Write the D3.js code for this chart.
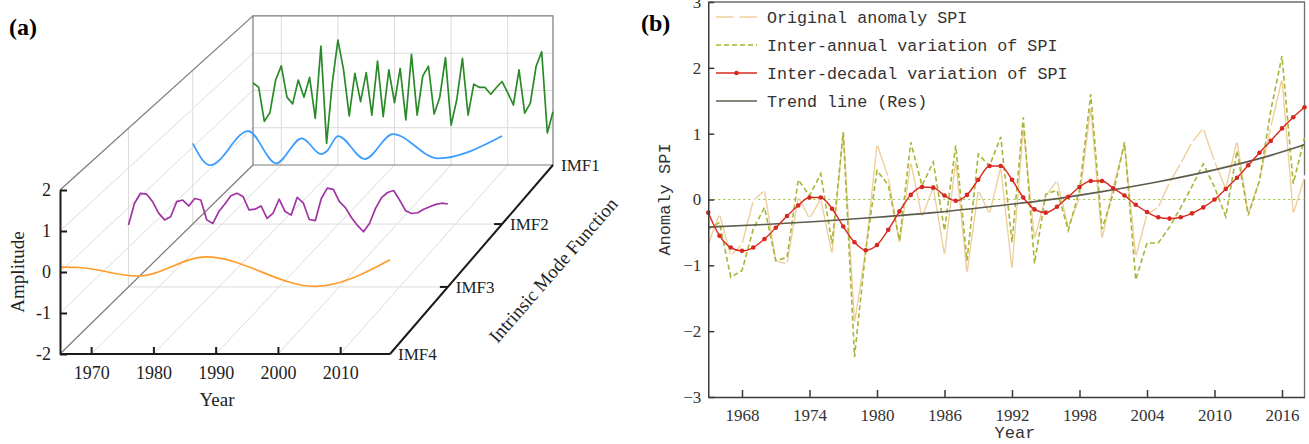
<!DOCTYPE html>
<html>
<head>
<meta charset="utf-8">
<script src="https://cdn.jsdelivr.net/npm/d3@7"></script>
<style>
body { margin: 0; background: #fff; }
svg { display: block; font-family: "Liberation Serif", "Times New Roman", serif; }
</style>
</head>
<body>
<svg id="chart" width="1309" height="444"></svg>
<script>
// ---------- data: panel (a) ----------
const years = d3.range(1965, 2019);
const imfNames = ['IMF4', 'IMF3', 'IMF2', 'IMF1'];
const yearTicksA = [1970, 1980, 1990, 2000, 2010];
const ampTicks = [-2, -1, 0, 1, 2];

// IMF1, one value a year (back wall)
const imf1 = [0.20, 0.09, -0.83, -0.59, 0.28, 0.66, -0.18, -0.36, 0.28, -0.18,
  0.35, -0.75, 1.19, -1.42, 0.19, 1.35, 0.55, -0.68, 0.46, -0.30,
  0.48, -0.66, 0.79, -0.70, 0.55, -0.33, 0.59, -0.79, 0.97, -0.66,
  0.39, 0.65, -0.63, -0.18, 0.88, -0.93, -0.25, 0.86, -0.66, 0.17,
  0.08, 0.08, -0.10, 0.08, 0.24, -0.06, -0.39, 0.55, -0.61, -0.34,
  0.64, 1.04, -1.14, -0.57];
// IMF2, turning points
const imf2Years = [1965, 1968, 1974.5, 1979.3, 1983.7, 1987, 1988, 1989.9, 1994.5, 1999.3, 2007, 2018];
const imf2 = [0.10, -0.47, 0.42, -0.42, 0.23, -0.18, -0.10, 0.29, -0.31, 0.34, -0.29, 0.29];
// IMF3, one value a year
const imf3 = [-0.44, 0.11, 0.36, 0.34, 0.15, -0.14, -0.31, -0.23, 0.15, 0.19,
  0.04, 0.23, 0.19, -0.31, -0.40, -0.10, 0.09, 0.30, 0.36, 0.28,
  -0.06, -0.04, 0.04, -0.27, -0.14, 0.21, -0.10, -0.19, 0.26, 0.12,
  -0.30, -0.33, 0.23, 0.49, 0.46, 0.15, 0.00, -0.25, -0.45, -0.61,
  -0.40, -0.02, 0.25, 0.38, 0.43, 0.19, -0.08, -0.15, -0.13, -0.04,
  0.02, 0.08, 0.11, 0.09];
// IMF4, turning points
const imf4Years = [1965, 1968, 1977.5, 1988.5, 2006, 2018];
const imf4 = [0.12, 0.11, -0.10, 0.37, -0.35, 0.30];

// ---------- data: panel (b) ----------
const yearTicksB = [1968, 1974, 1980, 1986, 1992, 1998, 2004, 2010, 2016];
const spiTicks = [-3, -2, -1, 0, 1, 2, 3];
const original = [-0.68, -0.22, -0.85, -0.68, -0.02, 0.14, -0.93, -0.98, 0.04, -0.29,
  0.01, -0.83, 1.05, -1.88, -0.77, 0.84, 0.34, -0.67, 0.57, -0.27,
  0.19, -0.85, 0.59, -1.12, 0.14, -0.22, 0.49, -1.06, 1.09, -0.60,
  0.05, 0.29, -0.42, 0.03, 1.40, -0.60, 0.19, 0.84, -0.87, -0.22,
  -0.12, 0.26, 0.55, 0.87, 1.08, 0.58, 0.16, 0.89, -0.22, 0.29,
  1.10, 1.83, -0.22, 0.34];
const interAnnual = [-0.45, -0.35, -1.18, -1.08, -0.45, -0.12, -0.93, -0.88, 0.30, 0.06,
  0.39, -0.67, 1.02, -2.39, -0.77, 0.44, 0.22, -0.62, 0.87, 0.21,
  0.57, -0.47, 0.82, -0.93, 0.69, 0.51, 0.95, -0.65, 1.25, -0.97,
  0.08, 0.14, -0.47, 0.14, 1.60, -0.45, 0.09, 0.87, -1.22, -0.66,
  -0.66, -0.42, -0.12, 0.20, 0.54, 0.19, -0.26, 0.74, -0.24, 0.29,
  1.35, 2.18, 0.24, 0.94];
const interDecadal = [-0.20, -0.55, -0.73, -0.78, -0.73, -0.60, -0.43, -0.25, -0.09, 0.03,
  0.03, -0.14, -0.41, -0.65, -0.77, -0.69, -0.46, -0.18, 0.07, 0.19,
  0.18, 0.06, -0.02, 0.07, 0.30, 0.51, 0.51, 0.30, 0.03, -0.15,
  -0.20, -0.11, 0.04, 0.19, 0.28, 0.28, 0.17, 0.06, -0.08, -0.19,
  -0.27, -0.29, -0.27, -0.21, -0.12, 0.00, 0.16, 0.33, 0.52, 0.71,
  0.89, 1.08, 1.25, 1.40];
const trendYears = [1965, 1970, 1975, 1980, 1985, 1990, 1995, 2000, 2005, 2010, 2015, 2018];
const trend = [-0.42, -0.38, -0.33, -0.27, -0.20, -0.11, -0.01, 0.12, 0.27, 0.45, 0.67, 0.83];

const svg = d3.select('#chart');

// ================= Panel (a): 3D waterfall of IMFs =================
const xA = d3.scaleLinear().domain([1965, 2018]).range([60, 390]);
const yA = d3.scaleLinear().domain([-2, 2]).range([354, 190]);
const depth = d3.scalePoint().domain(imfNames).range([0, 1]);

// simple perspective: back wall is the front plane shrunk toward a far vanishing point
const VX = 2183, VY = -1725, K = 0.1;
function proj(px, py, t) {
    const s = 1 / (1 + K * t);
    return [VX + s * (px - VX), VY + s * (py - VY)];
}

const ga = svg.append('g');
function seg(a, b, color, w) {
    ga.append('line')
        .attr('x1', a[0]).attr('y1', a[1])
        .attr('x2', b[0]).attr('y2', b[1])
        .style('stroke', color)
        .style('stroke-width', w);
}

const x0 = xA.range()[0], x1 = xA.range()[1];
const yBot = yA(-2), yTop = yA(2);
const grid = '#dcdcdc';
const midDepths = [depth('IMF3'), depth('IMF2')];

// back wall grid
yearTicksA.forEach(yr => seg(proj(xA(yr), yBot, 1), proj(xA(yr), yTop, 1), grid, 1));
[-1, 0, 1].forEach(a => seg(proj(x0, yA(a), 1), proj(x1, yA(a), 1), grid, 1));
// floor grid
yearTicksA.forEach(yr => seg(proj(xA(yr), yBot, 0), proj(xA(yr), yBot, 1), grid, 1));
midDepths.forEach(t => seg(proj(x0, yBot, t), proj(x1, yBot, t), grid, 1));
// left wall grid
[-1, 0, 1].forEach(a => seg(proj(x0, yA(a), 0), proj(x0, yA(a), 1), grid, 1));
midDepths.forEach(t => seg(proj(x0, yBot, t), proj(x0, yTop, t), grid, 1));

// box edges
const edge = '#7a7a7a';
const bl = proj(x0, yBot, 1), tl = proj(x0, yTop, 1), br = proj(x1, yBot, 1), tr = proj(x1, yTop, 1);
ga.append('path')
    .attr('d', `M${bl}L${tl}L${tr}L${br}Z`)
    .style('fill', 'none')
    .style('stroke', edge)
    .style('stroke-width', 1.2);
seg([x0, yTop], tl, edge, 1.2);
seg([x0, yBot], bl, edge, 1.2);

// curves
function lineAt(name) {
    const t = depth(name);
    return d3.line()
        .x(d => proj(xA(d[0]), yA(d[1]), t)[0])
        .y(d => proj(xA(d[0]), yA(d[1]), t)[1]);
}
const seriesA = [
    { name: 'IMF4', pts: d3.zip(imf4Years, imf4), color: '#ff9d2b', curve: d3.curveMonotoneX },
    { name: 'IMF3', pts: d3.zip(years, imf3), color: '#a033a3', curve: d3.curveLinear },
    { name: 'IMF2', pts: d3.zip(imf2Years, imf2), color: '#3a9cff', curve: d3.curveMonotoneX },
    { name: 'IMF1', pts: d3.zip(years, imf1), color: '#2a8a2a', curve: d3.curveLinear }
];
seriesA.forEach(s => {
    ga.append('path')
        .datum(s.pts)
        .attr('d', lineAt(s.name).curve(s.curve))
        .style('fill', 'none')
        .style('stroke', s.color)
        .style('stroke-width', 1.7)
        .style('stroke-linejoin', 'round');
});

// front axes
const axisY = ga.append('g')
    .attr('transform', `translate(${x0},0)`)
    .call(d3.axisLeft(yA).tickValues(ampTicks).tickFormat(d => String(d))
        .tickSize(-7).tickSizeOuter(0).tickPadding(9));
const axisX = ga.append('g')
    .attr('transform', `translate(0,${yBot})`)
    .call(d3.axisBottom(xA).tickValues(yearTicksA).tickFormat(d3.format('d'))
        .tickSize(-7).tickSizeOuter(0).tickPadding(12));
[axisY, axisX].forEach(g => {
    g.selectAll('path, line').style('stroke', '#1a1a1a').style('stroke-width', 2);
    g.selectAll('text').style('font-family', '"Liberation Serif", serif')
        .style('font-size', '18px').style('fill', '#222');
});
axisX.select('.domain').attr('d', `M${x0},0H${x1}`);

// depth axis along the right floor edge
seg([x1, yBot], br, '#1a1a1a', 2);
imfNames.forEach(n => {
    const p = proj(x1, yBot, depth(n));
    if (n === 'IMF3' || n === 'IMF2') seg([p[0] - 8, p[1]], p, '#1a1a1a', 2);
    ga.append('text')
        .attr('x', p[0] + 8)
        .attr('y', p[1])
        .attr('dy', '0.35em')
        .style('font-size', '17px')
        .style('fill', '#222')
        .text(n);
});

ga.append('text')
    .attr('transform', 'translate(553,270) rotate(-49)')
    .attr('text-anchor', 'middle')
    .attr('dy', '0.35em')
    .style('font-size', '19px')
    .style('fill', '#222')
    .text('Intrinsic Mode Function');
ga.append('text')
    .attr('transform', `translate(17,${yA(0)}) rotate(-90)`)
    .attr('text-anchor', 'middle')
    .attr('dy', '0.35em')
    .style('font-size', '19px')
    .style('fill', '#222')
    .text('Amplitude');
ga.append('text')
    .attr('x', 217).attr('y', 406)
    .attr('text-anchor', 'middle')
    .style('font-size', '19px')
    .style('fill', '#222')
    .text('Year');
ga.append('text')
    .attr('x', 9).attr('y', 35)
    .style('font-size', '24px')
    .style('font-weight', 'bold')
    .text('(a)');

// ================= Panel (b): SPI decomposition =================
const xB = d3.scaleLinear().domain([1965, 2018]).range([708.25, 1304.5]);
const yB = d3.scaleLinear().domain([-3, 3]).range([397, 2]);
const gb = svg.append('g');
const mono = '"Liberation Mono", "DejaVu Sans Mono", monospace';

const cTan = '#efcf9e', cGreen = '#a6b535', cZero = '#93c83a', cRed = '#d8281e', cTrend = '#5c5c4c';

// frame (top/right)
gb.append('path')
    .attr('d', `M${xB.range()[0]},${yB(3)}H${xB.range()[1]}V${yB(-3)}`)
    .style('fill', 'none')
    .style('stroke', '#6e6e6e')
    .style('stroke-width', 1.3);

// zero line
gb.append('line')
    .attr('x1', xB.range()[0]).attr('x2', xB.range()[1])
    .attr('y1', yB(0)).attr('y2', yB(0))
    .style('stroke', cZero)
    .style('stroke-width', 1.2)
    .style('stroke-dasharray', '2,3');

const lineB = d3.line().x(d => xB(d[0])).y(d => yB(d[1]));

// original
gb.append('path')
    .datum(d3.zip(years, original))
    .attr('d', lineB)
    .style('fill', 'none')
    .style('stroke', cTan)
    .style('stroke-width', 1.4);
gb.selectAll('.orig-pt')
    .data(d3.zip(years, original))
    .enter().append('circle')
    .attr('class', 'orig-pt')
    .attr('cx', d => xB(d[0])).attr('cy', d => yB(d[1]))
    .attr('r', 1.8)
    .style('fill', '#fff');

// inter-annual
gb.append('path')
    .datum(d3.zip(years, interAnnual))
    .attr('d', lineB)
    .style('fill', 'none')
    .style('stroke', cGreen)
    .style('stroke-width', 1.6)
    .style('stroke-dasharray', '5,3');

// trend
gb.append('path')
    .datum(d3.zip(trendYears, trend))
    .attr('d', d3.line().x(d => xB(d[0])).y(d => yB(d[1])).curve(d3.curveMonotoneX))
    .style('fill', 'none')
    .style('stroke', cTrend)
    .style('stroke-width', 1.6);

// inter-decadal
gb.append('path')
    .datum(d3.zip(years, interDecadal))
    .attr('d', lineB.curve(d3.curveMonotoneX))
    .style('fill', 'none')
    .style('stroke', cRed)
    .style('stroke-width', 1.4);
gb.selectAll('.dec-pt')
    .data(d3.zip(years, interDecadal))
    .enter().append('circle')
    .attr('class', 'dec-pt')
    .attr('cx', d => xB(d[0])).attr('cy', d => yB(d[1]))
    .attr('r', 2.3)
    .style('fill', cRed);

// axes
const minus = d => d < 0 ? '\u2212' + Math.abs(d) : String(d);
const axL = gb.append('g')
    .attr('transform', `translate(${xB.range()[0]},0)`)
    .call(d3.axisLeft(yB).tickValues(spiTicks).tickFormat(minus).tickSize(-6).tickSizeOuter(0).tickPadding(7));
const axB = gb.append('g')
    .attr('transform', `translate(0,${yB(-3)})`)
    .call(d3.axisBottom(xB).tickValues(yearTicksB).tickFormat(d3.format('d'))
        .tickSize(-7).tickSizeOuter(0).tickPadding(12));
[axL, axB].forEach(g => {
    g.selectAll('path, line').style('stroke', '#3a3a3a').style('stroke-width', 1.5);
    g.selectAll('text').style('font-family', '"Liberation Serif", serif')
        .style('font-size', '17px').style('fill', '#333');
});

gb.append('text')
    .attr('transform', `translate(664,${yB(0)}) rotate(-90)`)
    .attr('text-anchor', 'middle')
    .attr('dy', '0.35em')
    .style('font-family', mono)
    .style('font-size', '17px')
    .style('fill', '#333')
    .text('Anomaly SPI');
gb.append('text')
    .attr('x', 1015).attr('y', 438)
    .attr('text-anchor', 'middle')
    .style('font-family', mono)
    .style('font-size', '17px')
    .style('fill', '#333')
    .text('Year');
gb.append('text')
    .attr('x', 641).attr('y', 31)
    .style('font-size', '24px')
    .style('font-weight', 'bold')
    .text('(b)');

// legend
const legendData = [
    { label: 'Original anomaly SPI', color: cTan, dash: null, marker: 'white' },
    { label: 'Inter-annual variation of SPI', color: cGreen, dash: '5,3', marker: null },
    { label: 'Inter-decadal variation of SPI', color: cRed, dash: null, marker: cRed },
    { label: 'Trend line (Res)', color: cTrend, dash: null, marker: null }
];
const legend = gb.selectAll('.legend')
    .data(legendData)
    .enter().append('g')
    .attr('class', 'legend')
    .attr('transform', (d, i) => `translate(716,${17 + i * 28})`);
legend.append('line')
    .attr('x1', 0).attr('x2', 41)
    .style('stroke', d => d.color)
    .style('stroke-width', 1.5)
    .style('stroke-dasharray', d => d.dash);
legend.filter(d => d.marker)
    .append('circle')
    .attr('cx', 20.5)
    .attr('r', d => d.marker === 'white' ? 3 : 2.3)
    .style('fill', d => d.marker);
legend.append('text')
    .attr('x', 51)
    .attr('dy', '0.35em')
    .style('font-family', mono)
    .style('font-size', '16.7px')
    .style('fill', '#333')
    .text(d => d.label);
</script>
</body>
</html>
